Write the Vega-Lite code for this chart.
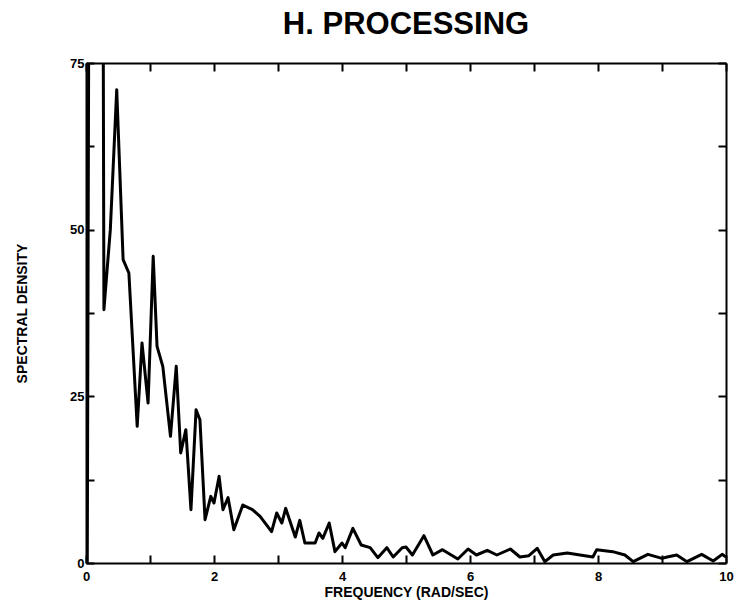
{
 "$schema": "https://vega.github.io/schema/vega-lite/v6.json",
 "width": 640, "height": 500,
 "autosize": {"type": "none"},
 "padding": {"left": 86, "top": 63, "right": 15, "bottom": 37},
 "background": "white",
 "title": {"text": "H. PROCESSING", "fontSize": 31, "font": "Liberation Sans", "fontWeight": "bold", "color": "black", "offset": 16},
 "data": {"values": [
  {"f": 0.02, "s": 0}, {"f": 0.16, "s": 500}, {"f": 0.28, "s": 38}, {"f": 0.38, "s": 50}, {"f": 0.48, "s": 71},
  {"f": 0.58, "s": 45.5}, {"f": 0.67, "s": 43.5}, {"f": 0.8, "s": 20.5}, {"f": 0.875, "s": 33}, {"f": 0.97, "s": 24},
  {"f": 1.05, "s": 46}, {"f": 1.11, "s": 32.5}, {"f": 1.2, "s": 29.5}, {"f": 1.32, "s": 19}, {"f": 1.41, "s": 29.5},
  {"f": 1.48, "s": 16.5}, {"f": 1.56, "s": 20}, {"f": 1.64, "s": 8}, {"f": 1.72, "s": 23}, {"f": 1.78, "s": 21.5},
  {"f": 1.86, "s": 6.5}, {"f": 1.95, "s": 10}, {"f": 2.0, "s": 9}, {"f": 2.08, "s": 13}, {"f": 2.14, "s": 8},
  {"f": 2.22, "s": 9.8}, {"f": 2.31, "s": 5}, {"f": 2.45, "s": 8.7}, {"f": 2.6, "s": 8}, {"f": 2.72, "s": 7},
  {"f": 2.9, "s": 4.7}, {"f": 2.98, "s": 7.5}, {"f": 3.06, "s": 6}, {"f": 3.12, "s": 8.2}, {"f": 3.27, "s": 3.9},
  {"f": 3.34, "s": 6.4}, {"f": 3.42, "s": 3}, {"f": 3.58, "s": 3}, {"f": 3.64, "s": 4.5}, {"f": 3.7, "s": 3.7},
  {"f": 3.8, "s": 6}, {"f": 3.89, "s": 1.7}, {"f": 4.0, "s": 3}, {"f": 4.05, "s": 2.3}, {"f": 4.17, "s": 5.2},
  {"f": 4.3, "s": 2.7}, {"f": 4.44, "s": 2.3}, {"f": 4.56, "s": 0.8}, {"f": 4.7, "s": 2.3}, {"f": 4.8, "s": 0.9},
  {"f": 4.94, "s": 2.3}, {"f": 5.0, "s": 2.4}, {"f": 5.1, "s": 1.2}, {"f": 5.28, "s": 4.1}, {"f": 5.42, "s": 1.2},
  {"f": 5.57, "s": 2}, {"f": 5.81, "s": 0.6}, {"f": 5.97, "s": 2.1}, {"f": 6.1, "s": 1.2}, {"f": 6.27, "s": 1.9},
  {"f": 6.42, "s": 1.2}, {"f": 6.63, "s": 2.1}, {"f": 6.78, "s": 0.9}, {"f": 6.92, "s": 1.1}, {"f": 7.05, "s": 2.2},
  {"f": 7.17, "s": 0.2}, {"f": 7.3, "s": 1.2}, {"f": 7.52, "s": 1.5}, {"f": 7.72, "s": 1.2}, {"f": 7.92, "s": 0.9},
  {"f": 7.98, "s": 2.0}, {"f": 8.23, "s": 1.7}, {"f": 8.42, "s": 1.2}, {"f": 8.55, "s": 0.2}, {"f": 8.78, "s": 1.3},
  {"f": 9.0, "s": 0.7}, {"f": 9.08, "s": 0.9}, {"f": 9.23, "s": 1.2}, {"f": 9.39, "s": 0.2}, {"f": 9.62, "s": 1.3},
  {"f": 9.8, "s": 0.3}, {"f": 9.94, "s": 1.3}, {"f": 10.0, "s": 0.9}
 ]},
 "config": {
  "view": {"stroke": null},
  "axis": {"grid": false, "domainColor": "black", "domainWidth": 2, "tickColor": "black", "tickWidth": 2, "tickSize": -8,
   "labelFont": "Liberation Sans", "labelFontWeight": "bold", "labelFontSize": 13, "labelColor": "black",
   "titleFont": "Liberation Sans", "titleFontWeight": "bold", "titleFontSize": 14, "titleColor": "black",
   "labelFlush": false, "labelOverlap": false}
 },
 "layer": [
  {"mark": {"type": "line", "color": "black", "strokeWidth": 3, "clip": true, "strokeJoin": "round"},
   "encoding": {
    "x": {"field": "f", "type": "quantitative", "scale": {"domain": [0, 10], "nice": false},
     "axis": {"orient": "bottom", "values": [0, 1, 2, 3, 4, 5, 6, 7, 8, 9, 10], "labelExpr": "datum.value % 2 == 0 ? datum.label : ''", "title": "FREQUENCY (RAD/SEC)", "labelPadding": 15, "titlePadding": 2}},
    "y": {"field": "s", "type": "quantitative", "scale": {"domain": [0, 75], "nice": false},
     "axis": {"orient": "left", "values": [0, 12.5, 25, 37.5, 50, 62.5, 75], "labelExpr": "datum.value % 25 == 0 ? datum.label : ''", "title": "SPECTRAL DENSITY", "labelPadding": 10, "titlePadding": 40}}
   }},
  {"mark": {"type": "line", "opacity": 0, "clip": true},
   "encoding": {
    "x": {"field": "f", "type": "quantitative", "scale": {"domain": [0, 10], "nice": false},
     "axis": {"orient": "top", "values": [0, 1, 2, 3, 4, 5, 6, 7, 8, 9, 10], "labels": false, "title": null}},
    "y": {"field": "s", "type": "quantitative", "scale": {"domain": [0, 75], "nice": false},
     "axis": {"orient": "right", "values": [0, 12.5, 25, 37.5, 50, 62.5, 75], "labels": false, "title": null}}
   }}
 ],
 "resolve": {"scale": {"x": "independent", "y": "independent"}, "axis": {"x": "independent", "y": "independent"}}
}
